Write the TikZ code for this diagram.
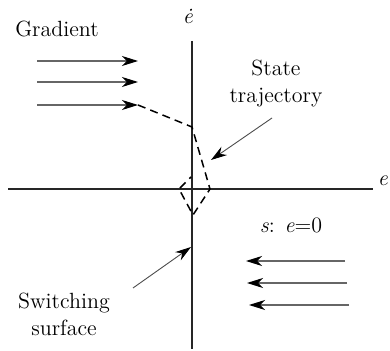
\documentclass[tikz,border=0pt]{standalone}
\usepackage{fontspec}
\usetikzlibrary{arrows.meta}
\begin{document}
\begin{tikzpicture}[x=0.5pt,y=-0.5pt,
  axis/.style={line width=0.9pt,black!85},
  flow/.style={line width=0.55pt,black!60,-{Stealth[length=8pt,width=5pt,inset=2.4pt,black]}},
  pointer/.style={line width=0.45pt,black!70,-{Stealth[length=8pt,width=5pt,inset=2.6pt,black]}},
  traj/.style={line width=0.75pt,dash pattern=on 4pt off 2.6pt},
  lbl/.style={font=\fontsize{11}{13.5}\selectfont,align=center,inner sep=0pt}]
\useasboundingbox (0,0) rectangle (390,351);
% axes
\coordinate (xl) at (8,189);
\coordinate (xr) at (373,189);
\coordinate (yt) at (192,41);
\coordinate (yb) at (192,349);
\draw[axis] (xl) -- (xr);
\draw[axis] (yt) -- (yb);
\node[lbl] (elab) at (383,181) {\textit{e}};
\node[lbl] (edlab) at (188,16) {\textit{ė}};
% gradient arrows (top-left)
\node[lbl] (grad) at (57,29) {Gradient};
\foreach \i/\y in {1/61,2/82,3/105}{
  \coordinate (gs\i) at (37,\y);
  \coordinate (ge\i) at (138,\y);
  \draw[flow] (gs\i) -- (ge\i);
}
% gradient arrows (bottom-right)
\foreach \i/\y/\xs/\xe in {1/261/345/246,2/283/347/247,3/305/349/249}{
  \coordinate (hs\i) at (\xs,\y);
  \coordinate (he\i) at (\xe,\y);
  \draw[flow] (hs\i) -- (he\i);
}
% state trajectory
\coordinate (t1) at (192,127);
\coordinate (t2) at (210,189);
\coordinate (t3) at (193,215);
\coordinate (t4) at (179,189);
\coordinate (t5) at (191,177);
\draw[traj] (ge3) -- (t1) -- (t2) -- (t3) -- (t4) -- (t5);
% labels with pointers
\node[lbl] (state) at (276,84) {State\\trajectory};
\coordinate (sp1) at (272,118);
\coordinate (sp2) at (211,160);
\draw[pointer] (sp1) -- (sp2);
\node[lbl] (switch) at (64,314) {Switching\\surface};
\coordinate (wp1) at (133,288);
\coordinate (wp2) at (191,247);
\draw[pointer] (wp1) -- (wp2);
\node[lbl] (seq) at (291,225) {\textit{s}: \textit{e}=0};
\end{tikzpicture}
\end{document}
